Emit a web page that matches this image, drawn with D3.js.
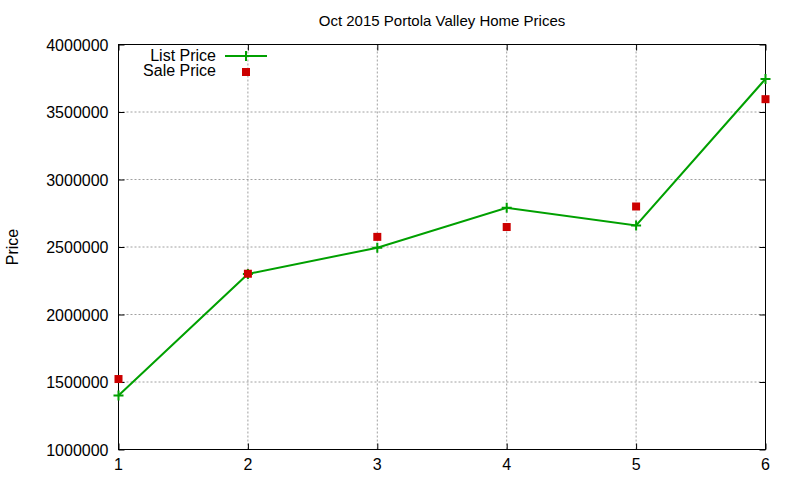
<!DOCTYPE html>
<html>
<head>
<meta charset="utf-8">
<script src="https://cdn.jsdelivr.net/npm/d3@7"></script>
<style>
  body { margin: 0; background: #fff; }
  text { font-family: "Liberation Sans", Arial, sans-serif; fill: #000; }
</style>
</head>
<body>
<script>
// house index (x), list and sale prices
var houses = [1, 2, 3, 4, 5, 6];
var listPrice = [1400000, 2300000, 2495000, 2790000, 2660000, 3745000];
var salePrice = [1522000, 2302000, 2575000, 2648000, 2800000, 3595000];
var yTicks = [1000000, 1500000, 2000000, 2500000, 3000000, 3500000, 4000000];
var xTicks = [1, 2, 3, 4, 5, 6];

var width = 800;
var height = 480;
var margin = { top: 44.5, left: 118.5, right: 34.5, bottom: 30.5 };

var svg = d3.select("body")
  .append("svg")
  .attr("width", width)
  .attr("height", height);

var xScale = d3.scaleLinear()
  .domain([1, 6])
  .range([margin.left, width - margin.right]);

var yScale = d3.scaleLinear()
  .domain([1000000, 4000000])
  .range([height - margin.bottom, margin.top]);

// grid lines (dotted gray)
var grid = svg.append("g")
  .attr("stroke", "#a0a0a0")
  .attr("stroke-width", 1)
  .attr("stroke-dasharray", "2,2");

grid.selectAll("line.gx")
  .data(xTicks.slice(1, -1))
  .enter().append("line")
  .attr("x1", d => xScale(d)).attr("x2", d => xScale(d))
  .attr("y1", yScale.range()[0]).attr("y2", yScale.range()[1]);

grid.selectAll("line.gy")
  .data(yTicks.slice(1, -1))
  .enter().append("line")
  .attr("x1", xScale.range()[0]).attr("x2", xScale.range()[1])
  .attr("y1", d => yScale(d)).attr("y2", d => yScale(d));

// axes, ticks pointing inward, mirrored on the opposite side
var tickLen = 6;
var yAxis = svg.append("g")
  .attr("transform", `translate(${margin.left},0)`)
  .call(d3.axisRight(yScale).tickValues(yTicks).tickSize(tickLen).tickFormat(""));
var yAxisR = svg.append("g")
  .attr("transform", `translate(${width - margin.right},0)`)
  .call(d3.axisLeft(yScale).tickValues(yTicks).tickSize(tickLen).tickFormat(""));
var xAxis = svg.append("g")
  .attr("transform", `translate(0,${height - margin.bottom})`)
  .call(d3.axisTop(xScale).tickValues(xTicks).tickSize(tickLen).tickFormat(""));
var xAxisT = svg.append("g")
  .attr("transform", `translate(0,${margin.top})`)
  .call(d3.axisBottom(xScale).tickValues(xTicks).tickSize(tickLen).tickFormat(""));
svg.selectAll(".domain").remove();
svg.selectAll(".tick line").attr("stroke", "#000");

// tick labels
svg.selectAll("text.ylab")
  .data(yTicks)
  .enter().append("text")
  .attr("x", margin.left - 10)
  .attr("y", d => yScale(d) + 6)
  .attr("text-anchor", "end")
  .attr("font-size", "16px")
  .text(d => d);

svg.selectAll("text.xlab")
  .data(xTicks)
  .enter().append("text")
  .attr("x", d => xScale(d))
  .attr("y", height - margin.bottom + 20)
  .attr("text-anchor", "middle")
  .attr("font-size", "16px")
  .text(d => d);

// plot frame
svg.append("rect")
  .attr("x", margin.left)
  .attr("y", margin.top)
  .attr("width", width - margin.left - margin.right)
  .attr("height", height - margin.top - margin.bottom)
  .attr("fill", "none")
  .attr("stroke", "#000")
  .attr("stroke-width", 1);

var green = "#00a000";
var red = "#cc0000";

// list price line with + markers
var line = d3.line()
  .x((d, i) => xScale(houses[i]))
  .y(d => yScale(d));

svg.append("path")
  .datum(listPrice)
  .attr("d", line)
  .attr("fill", "none")
  .attr("stroke", green)
  .attr("stroke-width", 2);

function plus(g, x, y) {
  g.append("path")
    .attr("d", `M${x - 5},${y}H${x + 5}M${x},${y - 5}V${y + 5}`)
    .attr("stroke", green)
    .attr("stroke-width", 2)
    .attr("fill", "none");
}

var pts = svg.append("g");
listPrice.forEach((d, i) => plus(pts, xScale(houses[i]), yScale(d)));

// sale price squares
svg.selectAll("rect.sale")
  .data(salePrice)
  .enter().append("rect")
  .attr("x", (d, i) => xScale(houses[i]) - 4)
  .attr("y", d => yScale(d) - 4)
  .attr("width", 8)
  .attr("height", 8)
  .attr("fill", red);

// legend
svg.append("text")
  .attr("x", 216).attr("y", 61)
  .attr("text-anchor", "end")
  .attr("font-size", "16px")
  .text("List Price");
svg.append("line")
  .attr("x1", 225).attr("x2", 267)
  .attr("y1", 56).attr("y2", 56)
  .attr("stroke", green).attr("stroke-width", 2);
plus(svg, 246, 56);

svg.append("text")
  .attr("x", 216).attr("y", 76)
  .attr("text-anchor", "end")
  .attr("font-size", "16px")
  .text("Sale Price");
svg.append("rect")
  .attr("x", 242).attr("y", 68)
  .attr("width", 8).attr("height", 8)
  .attr("fill", red);

// title and axis label
svg.append("text")
  .attr("x", (margin.left + width - margin.right) / 2)
  .attr("y", 26)
  .attr("text-anchor", "middle")
  .attr("font-size", "15px")
  .text("Oct 2015 Portola Valley Home Prices");

svg.append("text")
  .attr("transform", "translate(18,247) rotate(-90)")
  .attr("text-anchor", "middle")
  .attr("font-size", "16px")
  .text("Price");
</script>
</body>
</html>
